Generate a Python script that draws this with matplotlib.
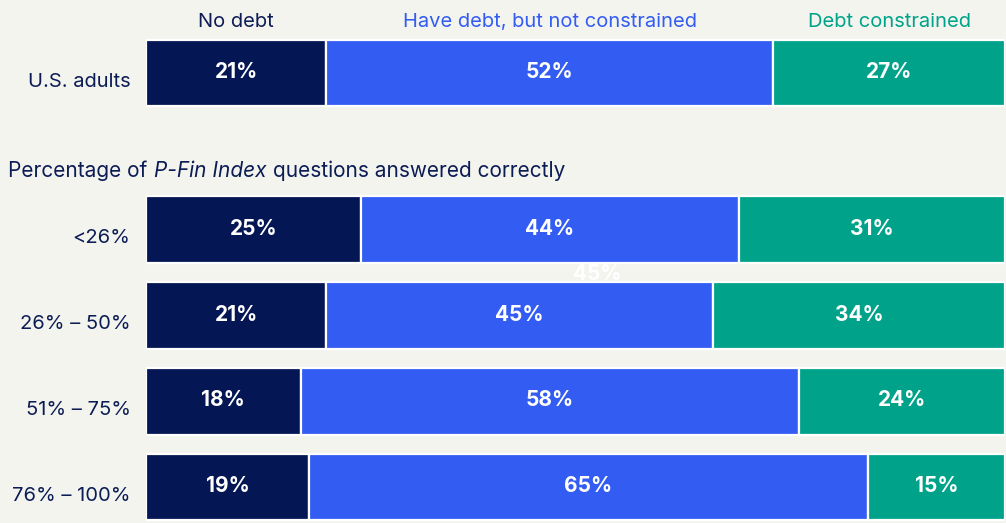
import numpy as np
import matplotlib.pyplot as plt

# data
rows = ["U.S. adults", "<26%", "26% – 50%", "51% – 75%", "76% – 100%"]
no_debt = [21, 25, 21, 18, 19]
have_debt = [52, 44, 45, 58, 65]
constrained = [27, 31, 34, 24, 15]
series_names = ["No debt", "Have debt, but not constrained", "Debt constrained"]

colors = ["#051654", "#335cf2", "#00a389"]
text_col = "#0c1c55"
bg = "#f4f4ef"

plt.rcParams['font.family'] = ['Inter', 'DejaVu Sans']

fig = plt.figure(figsize=(10.06, 5.23), dpi=100, facecolor=bg)
ax = fig.add_axes([146/1006, 0, 859/1006, 1])
ax.set_facecolor(bg)
ax.set_xlim(0, 100)
ax.set_ylim(5.25, -0.852)
ax.set_autoscale_on(False)
ax.axis("off")

ypos = np.array([0, 1.83, 2.83, 3.83, 4.83])
h = 0.78

vals = np.array([no_debt, have_debt, constrained], dtype=float)
widths = vals.copy()
widths[2] = 100 - vals[0] - vals[1]  # last segment runs to the end of the bar
left = np.zeros(len(rows))
for i in range(3):
    ax.barh(ypos, widths[i], left=left, height=h, color=colors[i],
            edgecolor="white", linewidth=1.6, zorder=3)
    for j in range(len(rows)):
        ax.text(left[j] + widths[i][j] / 2, ypos[j] - 0.01, f"{int(vals[i][j])}%",
                ha="center", va="center", color="white", fontsize=15,
                fontweight="bold", zorder=4)
    # series names above the first bar
    ax.text(left[0] + widths[i][0] / 2, ypos[0] - h / 2 - 0.1, series_names[i],
            ha="center", va="bottom", color=colors[i] if i else text_col,
            fontsize=14.5)
    left += widths[i]

# stray label left in the gap of the original
ax.text(52.5, (ypos[1] + ypos[2]) / 2 + 0.02, "45%", ha="center", va="center",
        color="white", fontsize=15, fontweight="bold", zorder=1)

for j in range(len(rows)):
    ax.text(-1.8, ypos[j] + 0.1, rows[j], ha="right", va="center",
            color=text_col, fontsize=14.5)

# header line with the index name in italics
renderer = fig.canvas.get_renderer()
def px_width(s, st="normal"):
    t = fig.text(0, 0, s, fontsize=15, style=st)
    w = t.get_window_extent(renderer).width
    t.remove()
    return w

space = px_width("x x") - px_width("xx") + 1
hy = ypos[1] - 0.69
x_px = ax.transData.transform((-16.1, hy))[0]
for part, st in [("Percentage of", "normal"), ("P-Fin Index", "italic"),
                 ("questions answered correctly", "normal")]:
    xd = ax.transData.inverted().transform((x_px, 0))[0]
    ax.text(xd, hy, part, ha="left", va="center", color=text_col,
            fontsize=15, style=st)
    x_px += px_width(part, st) + space

fig.savefig("out.png", dpi=100, facecolor=bg)
